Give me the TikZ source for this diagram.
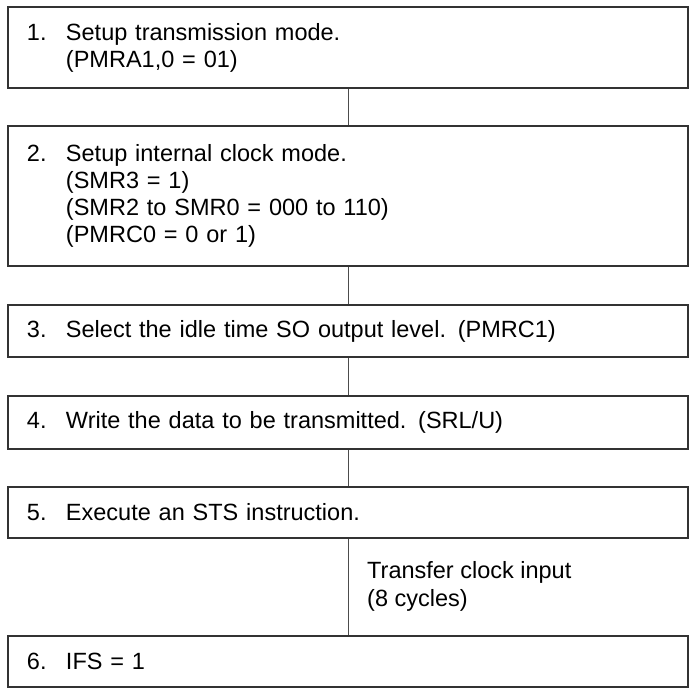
\documentclass[tikz,border=0pt]{standalone}
\usepackage{fontspec}
\setmainfont{Liberation Sans}
\tikzset{
  stepbox/.style={draw=black!80, line width=1.4pt, rectangle, inner xsep=19pt, inner ysep=0pt,
    text width=642pt, align=left, font=\fontsize{23.5}{27}\selectfont},
  conn/.style={draw=black!70, line width=1pt},
  lbl/.style={align=left, inner sep=0pt, font=\fontsize{23.5}{28}\selectfont}
}
\newcommand{\nm}[1]{\makebox[39pt][l]{#1}}
\newcommand{\ind}{\hspace*{39pt}}
\begin{document}
\begin{tikzpicture}[x=1pt,y=-1pt]
\useasboundingbox (0,0) rectangle (691,689);
\node[stepbox, minimum height=81pt] (b1) at (348,47.5) {\nm{1.}Setup transmission mode.\\\ind(PMRA1,0 = 01)};
\node[stepbox, minimum height=140pt] (b2) at (348,196) {\nm{2.}Setup internal clock mode.\\\ind(SMR3 = 1)\\\ind(SMR2 to SMR0 = 000 to 110)\\\ind(PMRC0 = 0 or 1)};
\node[stepbox, minimum height=52pt] (b3) at (348,331) {\nm{3.}Select the idle time SO output level. (PMRC1)};
\node[stepbox, minimum height=53pt] (b4) at (348,422.5) {\nm{4.}Write the data to be transmitted. (SRL/U)};
\node[stepbox, minimum height=51pt] (b5) at (348,512.5) {\nm{5.}Execute an STS instruction.};
\node[stepbox, minimum height=51pt] (b6) at (348,661.5) {\nm{6.}IFS = 1};
\draw[conn] (b1.south) -- (b2.north);
\draw[conn] (b2.south) -- (b3.north);
\draw[conn] (b3.south) -- (b4.north);
\draw[conn] (b4.south) -- (b5.north);
\draw[conn] (b5.south) -- (b6.north);
\node[lbl, anchor=west] (clk) at (367,586) {Transfer clock input\\(8 cycles)};
\end{tikzpicture}
\end{document}
